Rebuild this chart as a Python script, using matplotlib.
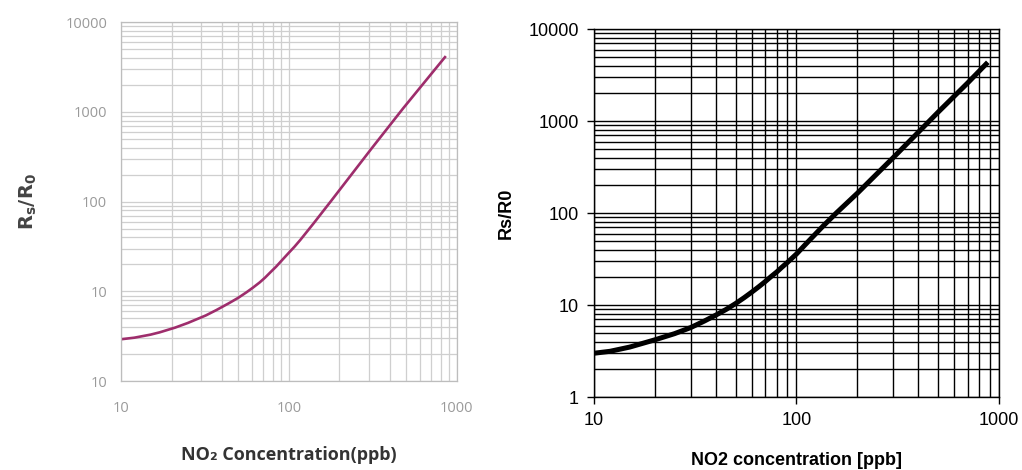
import matplotlib
matplotlib.use("Agg")
import matplotlib.pyplot as plt
from matplotlib.ticker import NullFormatter, LogLocator

# left panel (datasheet curve)
left_conc = [10, 12, 15, 17, 21, 25, 32, 37, 44, 50, 56, 61, 67, 72, 78, 84, 90, 100,
             108, 117, 140, 177, 310, 478, 850]
left_ratio = [2.93, 3.05, 3.3, 3.5, 3.95, 4.45, 5.4, 6.2, 7.4, 8.5, 9.8, 11, 12.6, 14.2,
              16.5, 18.9, 21.8, 27, 31.5, 37.5, 57, 100, 389, 1090, 4070]
left_yticks = [1, 10, 100, 1000, 10000]
left_ylabels = ["10", "10", "100", "1000", "10000"]

# right panel (redrawn curve)
right_conc = [10, 12, 15, 20, 25, 30, 35, 40, 45, 50, 55, 60, 65, 70, 75, 80, 85, 90,
              100, 110, 120, 135, 157, 200, 300, 500, 700, 863]
right_ratio = [3.0, 3.15, 3.5, 4.2, 4.9, 5.7, 6.7, 7.8, 9.0, 10.4, 12.0, 13.8, 15.8,
               18, 20.5, 23, 26, 29, 36, 45, 55, 72, 100, 165, 400, 1250, 2600, 4170]
right_yticks = [1, 10, 100, 1000, 10000]
right_ylabels = ["1", "10", "100", "1000", "10000"]

xticks = [10, 100, 1000]
xlabels = ["10", "100", "1000"]

fig = plt.figure(figsize=(10.22, 4.70), dpi=100)

# ---- left chart ----
ax1 = fig.add_axes([0.1184, 0.189, 0.3286, 0.764])
ax1.plot(left_conc, left_ratio, color="#9e2d6c", lw=1.9, solid_joinstyle="round")
ax1.set_xscale("log")
ax1.set_yscale("log")
ax1.set_xlim(10, 1000)
ax1.set_ylim(1, 10000)
ax1.xaxis.set_minor_locator(LogLocator(base=10, subs=range(2, 10)))
ax1.yaxis.set_minor_locator(LogLocator(base=10, subs=range(2, 10)))
ax1.xaxis.set_minor_formatter(NullFormatter())
ax1.yaxis.set_minor_formatter(NullFormatter())
ax1.set_xticks(xticks)
ax1.set_xticklabels(xlabels)
ax1.set_yticks(left_yticks)
ax1.set_yticklabels(left_ylabels)
ax1.grid(True, which="both", color="#cfcfcf", lw=0.9)
ax1.set_axisbelow(True)
ax1.tick_params(which="both", length=0, colors="#9a9a9a", labelsize=10.5)
ax1.tick_params(axis="y", pad=10)
ax1.tick_params(axis="x", pad=14)
for s in ax1.spines.values():
    s.set_color("#bdbdbd")
    s.set_linewidth(0.9)
for lab in ax1.get_xticklabels() + ax1.get_yticklabels():
    lab.set_family("Open Sans")
ax1.set_ylabel(r"$\mathbf{R_s/R_0}$", color="#444444", fontsize=14, labelpad=19)
ax1.set_xlabel("NO₂ Concentration(ppb)", color="#333333", fontsize=13,
               fontweight="bold", family=["Open Sans", "DejaVu Sans"], labelpad=22)

# ---- right chart ----
ax2 = fig.add_axes([0.5812, 0.155, 0.3963, 0.783])
ax2.plot(right_conc, right_ratio, color="black", lw=3.6, solid_joinstyle="round")
ax2.set_xscale("log")
ax2.set_yscale("log")
ax2.set_xlim(10, 1000)
ax2.set_ylim(1, 10000)
ax2.xaxis.set_minor_locator(LogLocator(base=10, subs=range(2, 10)))
ax2.yaxis.set_minor_locator(LogLocator(base=10, subs=range(2, 10)))
ax2.xaxis.set_minor_formatter(NullFormatter())
ax2.yaxis.set_minor_formatter(NullFormatter())
ax2.set_xticks(xticks)
ax2.set_xticklabels(xlabels)
ax2.set_yticks(right_yticks)
ax2.set_yticklabels(right_ylabels)
ax2.grid(True, which="both", color="black", lw=1.0)
ax2.set_axisbelow(True)
ax2.tick_params(which="major", length=5, width=1, direction="out", labelsize=13, pad=6)
ax2.tick_params(which="minor", length=0)
for s in ax2.spines.values():
    s.set_color("black")
    s.set_linewidth(1.0)
for lab in ax2.get_xticklabels() + ax2.get_yticklabels():
    lab.set_family("Liberation Sans")
ax2.set_ylabel("Rs/R0", fontsize=13, fontweight="bold", family="Liberation Sans", labelpad=10)
ax2.set_xlabel("NO2 concentration [ppb]", fontsize=13, fontweight="bold",
               family="Liberation Sans", labelpad=16)

fig.savefig("out.png", dpi=100, facecolor="white")
